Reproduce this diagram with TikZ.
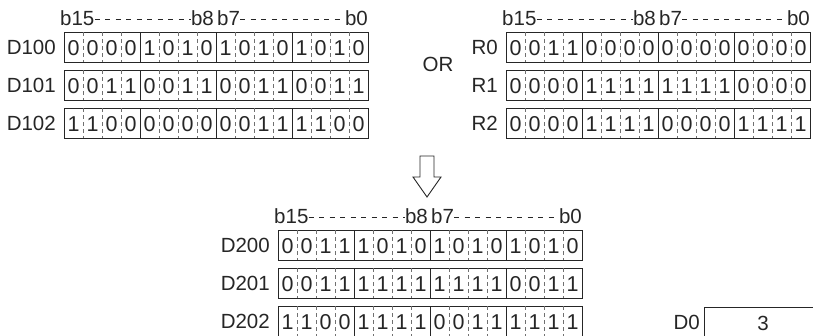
\documentclass[tikz,border=0pt]{standalone}
\usepackage{fontspec}
\setmainfont{Liberation Sans}
\usetikzlibrary{positioning}

\definecolor{ink}{HTML}{262626}
\definecolor{tick}{HTML}{707070}

\tikzset{
  plain/.style={font=\fontsize{20.5}{24}\selectfont, text=ink, inner sep=0pt},
  digit/.style={font=\fontsize{21.5}{24}\selectfont, text=ink, inner sep=0pt},
  word/.style={draw=ink, line width=1.2pt, minimum width=304pt, minimum height=30pt,
               inner sep=0pt, anchor=north west},
  nibble/.style={draw=ink, line width=0.9pt},
  bitsep/.style={draw=tick, line width=0.8pt, dash pattern=on 4pt off 3pt},
  hdrdash/.style={draw=ink, line width=0.8pt, dash pattern=on 5pt off 5.5pt},
  hollow/.style={draw=ink, line width=0.9pt, fill=white, line join=miter},
}

% one 16-bit word: name, x, top y, label, bits b15 ... b0
\newcommand{\wordrow}[5]{%
  \node[word] (#1) at (#2,#3) {};
  \node[plain, left=8pt of #1] (#1-name) {#4};
  \foreach \i in {1,...,15} {
    \pgfmathtruncatemacro{\nib}{mod(\i,4)}
    \ifnum\nib=0
      \draw[nibble] (#1.north west) ++(19*\i,0) -- ++(0,30);
    \else
      \draw[bitsep] (#1.north west) ++(19*\i,0) -- ++(0,30);
    \fi
  }
  \foreach \bit [count=\i from 0] in {#5}
    \node[digit] (#1-\i) at ([shift={(9.5+19*\i,16)}]#1.north west) {\bit};
}

% bit numbers above a word: name, x, baseline y
\newcommand{\bithead}[3]{%
  \node[plain, anchor=base west] (#1-hi) at (#2-4,#3) {b15};
  \node[plain, anchor=base east] (#1-b8) at (#2+150,#3) {b8};
  \node[plain, anchor=base west] (#1-b7) at (#2+153,#3) {b7};
  \node[plain, anchor=base east] (#1-lo) at (#2+304,#3) {b0};
  \draw[hdrdash] ([yshift=6pt]#1-hi.base east) -- ([yshift=6pt]#1-b8.base west);
  \draw[hdrdash] ([yshift=6pt]#1-b7.base east) -- ([shift={(-5pt,6pt)}]#1-lo.base west);
}

\begin{document}
\begin{tikzpicture}[x={(1pt,0)}, y={(0,-1pt)}]
    % Page frame, the lowest row runs off the edge
    \path[use as bounding box] (0,0) rectangle (813,335);
    \clip (0,0) rectangle (813,335);

    % First source words
    \bithead{dsrc}{64}{25}
    \wordrow{d100}{64}{32}{D100}{0,0,0,0,1,0,1,0,1,0,1,0,1,0,1,0}
    \wordrow{d101}{64}{70}{D101}{0,0,1,1,0,0,1,1,0,0,1,1,0,0,1,1}
    \wordrow{d102}{64}{108}{D102}{1,1,0,0,0,0,0,0,0,0,1,1,1,1,0,0}

    \node[plain] (or) at (438,64) {OR};

    % Second source words
    \bithead{rsrc}{506}{25}
    \wordrow{r0}{506}{32}{R0}{0,0,1,1,0,0,0,0,0,0,0,0,0,0,0,0}
    \wordrow{r1}{506}{70}{R1}{0,0,0,0,1,1,1,1,1,1,1,1,0,0,0,0}
    \wordrow{r2}{506}{108}{R2}{0,0,0,0,1,1,1,1,0,0,0,0,1,1,1,1}

    % Hollow arrow down
    \draw[hollow] (420,156) -- (434,156) -- (434,177) -- (441,177)
        -- (427,197) -- (413,177) -- (420,177) -- cycle;

    % Result words
    \bithead{dres}{278}{223}
    \wordrow{d200}{278}{230}{D200}{0,0,1,1,1,0,1,0,1,0,1,0,1,0,1,0}
    \wordrow{d201}{278}{268}{D201}{0,0,1,1,1,1,1,1,1,1,1,1,0,0,1,1}
    \wordrow{d202}{278}{306}{D202}{1,1,0,0,1,1,1,1,0,0,1,1,1,1,1,1}

    % Word count
    \node[draw=ink, line width=1.2pt, minimum width=140pt, minimum height=30pt,
          inner sep=0pt, anchor=north west] (d0) at (704,307) {};
    \node[plain, left=4pt of d0] (d0-name) {D0};
    \node[plain] (d0-val) at (763,323) {3};
\end{tikzpicture}
\end{document}
